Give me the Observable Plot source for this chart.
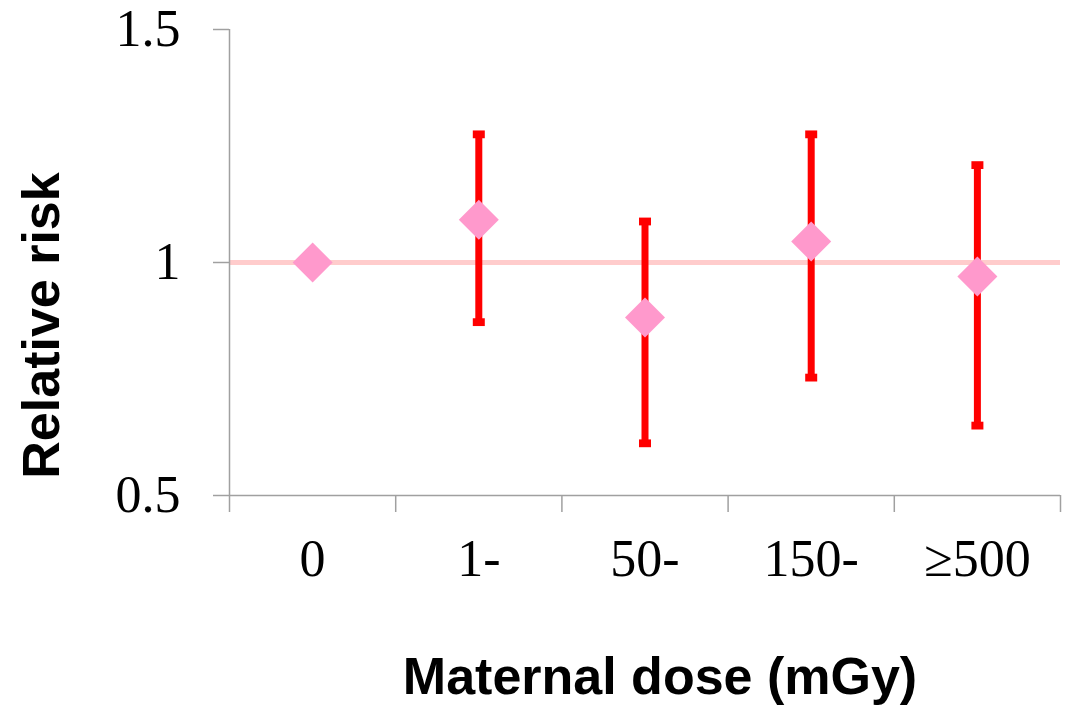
<!DOCTYPE html>
<html>
<head>
<meta charset="utf-8">
<script src="https://cdn.jsdelivr.net/npm/d3@7"></script>
<script src="https://cdn.jsdelivr.net/npm/@observablehq/plot@0.6"></script>
<style>
  html, body { margin: 0; padding: 0; background: #fff; }
  #chart svg { display: block; }
</style>
</head>
<body>
<div id="chart"></div>
<script>
// ---- Data ----
const doseCategories = ["0", "1-", "50-", "150-", "\u2265500"];
const relativeRisk   = [1.000, 1.092, 0.882, 1.045, 0.970];
const ciLower        = [null, 0.872, 0.612, 0.753, 0.650];
const ciUpper        = [null, 1.275, 1.088, 1.275, 1.209];
const yTicks         = [0.5, 1, 1.5];
const referenceRisk  = [1];
const xTitle = "Maternal dose (mGy)";
const yTitle = "Relative risk";

// table built from the arrays; categories sit at the middle of unit slots
const rows = doseCategories.map((c, i) => ({
  cat: c, pos: i + 0.5, rr: relativeRisk[i], lo: ciLower[i], hi: ciUpper[i]
}));
const bars = rows.filter(d => d.lo != null);
const slotEdges = d3.range(doseCategories.length + 1);
const slotCenters = rows.map(d => d.pos);

const diamond = {
  draw(ctx, size) {
    const r = Math.sqrt(size / Math.PI);
    ctx.moveTo(0, -r); ctx.lineTo(r, 0); ctx.lineTo(0, r); ctx.lineTo(-r, 0); ctx.closePath();
  }
};
const cap = {
  draw(ctx, size) {
    const r = Math.sqrt(size / Math.PI);
    ctx.rect(-r, -r * 0.65, 2 * r, 1.3 * r);
  }
};

const axisGray = "#A0A0A0";
const serif = "'Liberation Serif', 'Times New Roman', serif";
const sans = "'Liberation Sans', Arial, sans-serif";

const chart = Plot.plot({
  width: 1071,
  height: 707,
  marginLeft: 229,
  marginRight: 11,
  marginTop: 29,
  marginBottom: 212,
  style: { background: "#fff", color: "#000" },
  x: { type: "linear", domain: [0, doseCategories.length] },
  y: { type: "linear", domain: [0.5, 1.5] },
  marks: [
    // reference line at RR = 1
    Plot.ruleY(referenceRisk, { stroke: "#FFCCCC", strokeWidth: 5 }),
    // axes lines
    Plot.ruleX([0], { stroke: axisGray, strokeWidth: 1.5 }),
    Plot.ruleY([yTicks[0]], { stroke: axisGray, strokeWidth: 1.5 }),
    // y axis
    Plot.axisY(yTicks, {
      tickSize: 16, tickPadding: 33, stroke: axisGray, strokeWidth: 1.5,
      fontSize: 52, fontFamily: serif, fill: "#000",
      tickFormat: d => String(d), label: null
    }),
    // x axis tick marks at category boundaries (no labels)
    Plot.axisX(slotEdges, {
      tickSize: 17, stroke: axisGray, strokeWidth: 1.5, tickFormat: () => "", label: null
    }),
    // x axis labels at category centers
    Plot.axisX(slotCenters, {
      tickSize: 0, tickPadding: 44, fontSize: 52, fontFamily: serif, fill: "#000",
      tickFormat: d => doseCategories[Math.round(d - 0.5)], label: null
    }),
    // error bars
    Plot.ruleX(bars, { x: "pos", y1: "lo", y2: "hi", stroke: "#FF0000", strokeWidth: 7 }),
    Plot.dot(bars, { x: "pos", y: "hi", symbol: cap, r: 6, fill: "#FF0000", stroke: null }),
    Plot.dot(bars, { x: "pos", y: "lo", symbol: cap, r: 6, fill: "#FF0000", stroke: null }),
    // point estimates
    Plot.dot(rows, { x: "pos", y: "rr", symbol: diamond, r: 20, fill: "#FF99CC", stroke: null }),
    // axis titles
    Plot.text([xTitle], {
      frameAnchor: "bottom", textAnchor: "middle", dx: 15, dy: 198, text: d => d,
      fontSize: 52, fontWeight: "bold", fontFamily: sans, fill: "#000"
    }),
    Plot.text([yTitle], {
      frameAnchor: "left", textAnchor: "middle", lineAnchor: "middle",
      dx: -187, dy: 63, rotate: -90, text: d => d,
      fontSize: 52, fontWeight: "bold", fontFamily: sans, fill: "#000"
    })
  ]
});

document.getElementById("chart").appendChild(chart);
</script>
</body>
</html>
